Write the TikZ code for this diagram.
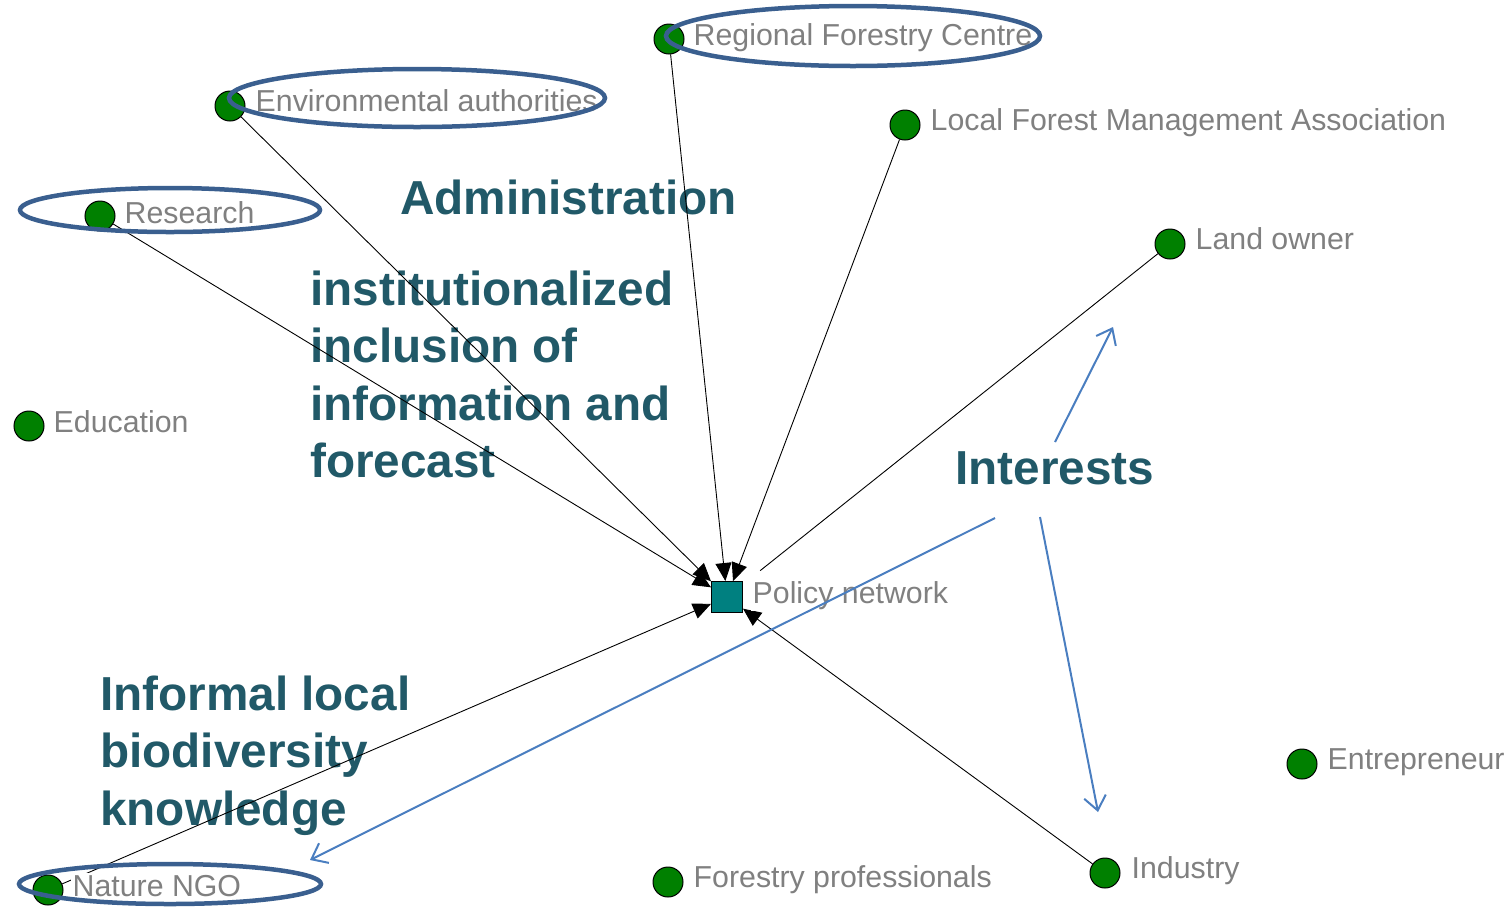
\documentclass[tikz,border=0pt]{standalone}
\usepackage{fontspec}
\setmainfont{Liberation Sans}
\usetikzlibrary{arrows.meta,shapes.geometric}
\definecolor{teal1}{HTML}{215968}
\definecolor{dotgreen}{HTML}{008000}
\definecolor{sqteal}{HTML}{008080}
\definecolor{lblgrey}{HTML}{808080}
\definecolor{ellblue}{HTML}{3A5F8F}
\definecolor{arrblue}{HTML}{4A7EC0}
\begin{document}
\begin{tikzpicture}[x=1pt,y=-1pt,
  dot/.style={circle,draw=black,line width=1pt,fill=dotgreen,minimum size=30pt,inner sep=0pt},
  sqnode/.style={rectangle,draw=black,line width=1pt,fill=sqteal,minimum size=31pt,inner sep=0pt},
  lbl/.style={anchor=base west,text=lblgrey,fill=white,inner sep=1.5pt,font=\fontsize{30.3}{35}\selectfont},
  big/.style={anchor=base west,text=teal1,inner sep=0pt,font=\fontsize{47.7}{57.5}\selectfont\bfseries},
  conn/.style={draw=black,line width=0.9pt,-{Triangle[length=18pt,width=16pt]}},
  plain/.style={draw=black,line width=0.9pt},
  ell/.style={ellipse,draw=ellblue,line width=4.5pt,inner sep=0pt},
  barrow/.style={draw=arrblue,line width=2pt,-{Straight Barb[length=14pt,width=22pt,line width=2pt]}}
]
\path[use as bounding box] (0,0) rectangle (1509,906);

% bold labels
\node[big] (adm) at (400,214) {Administration};
\node[big] (inst1) at (310,305) {institutionalized};
\node[big] (inst2) at (310,362.5) {inclusion of};
\node[big] (inst3) at (310,420) {information and};
\node[big] (inst4) at (310,477.5) {forecast};
\node[big] (intr) at (955,484) {Interests};
\node[big] (inf1) at (100,710) {Informal local};
\node[big] (inf2) at (100,767.5) {biodiversity};
\node[big] (inf3) at (100,825) {knowledge};

% nodes
\node[sqnode] (pn) at (727,597) {};
\node[dot] (rfc) at (669,39) {};
\node[dot] (env) at (230,106) {};
\node[dot] (res) at (100,216) {};
\node[dot] (lfma) at (905,125) {};
\node[dot] (land) at (1170,244) {};
\node[dot] (edu) at (29,426) {};
\node[dot] (ent) at (1302,764) {};
\node[dot] (ind) at (1105,873) {};
\node[dot] (fp) at (668,882) {};
\node[dot] (ngo) at (48,890) {};

% connectors
\draw[conn] (res) -- (pn);
\draw[conn] (env) -- (pn);
\draw[conn] (rfc) -- (pn);
\draw[conn] (lfma) -- (pn);
\draw[conn] (ngo) -- (pn);
\draw[conn] (ind) -- (pn);
\draw[plain,shorten >=22pt] (land) -- (pn);

% labels
\node[lbl] (pnL) at (751,603) {Policy network};
\node[lbl] (rfcL) at (692,45) {Regional Forestry Centre};
\node[lbl] (envL) at (254,111) {Environmental authorities};
\node[lbl] (resL) at (123,223) {Research};
\node[lbl] (lfmaL) at (929,130) {Local Forest Management Association};
\node[lbl] (landL) at (1194,249) {Land owner};
\node[lbl] (eduL) at (52,432) {Education};
\node[lbl] (entL) at (1326,769) {Entrepreneur};
\node[lbl] (indL) at (1130,878) {Industry};
\node[lbl] (fpL) at (692,887) {Forestry professionals};
\node[lbl] (ngoL) at (71,896) {Nature NGO};

% highlight ellipses
\node[ell,minimum width=374pt,minimum height=60pt] (e1) at (853,36) {};
\node[ell,minimum width=376pt,minimum height=58pt] (e2) at (417,98) {};
\node[ell,minimum width=300pt,minimum height=44pt] (e3) at (170,210) {};
\node[ell,minimum width=302pt,minimum height=40pt] (e4) at (170,884) {};

% interest arrows
\coordinate (a1s) at (1055,442);
\coordinate (a1e) at (1113,327);
\coordinate (a2s) at (1040,517);
\coordinate (a2e) at (1098,812);
\coordinate (a3s) at (995,518);
\coordinate (a3e) at (310,860);
\draw[barrow] (a1s) -- (a1e);
\draw[barrow] (a2s) -- (a2e);
\draw[barrow] (a3s) -- (a3e);
\end{tikzpicture}
\end{document}
